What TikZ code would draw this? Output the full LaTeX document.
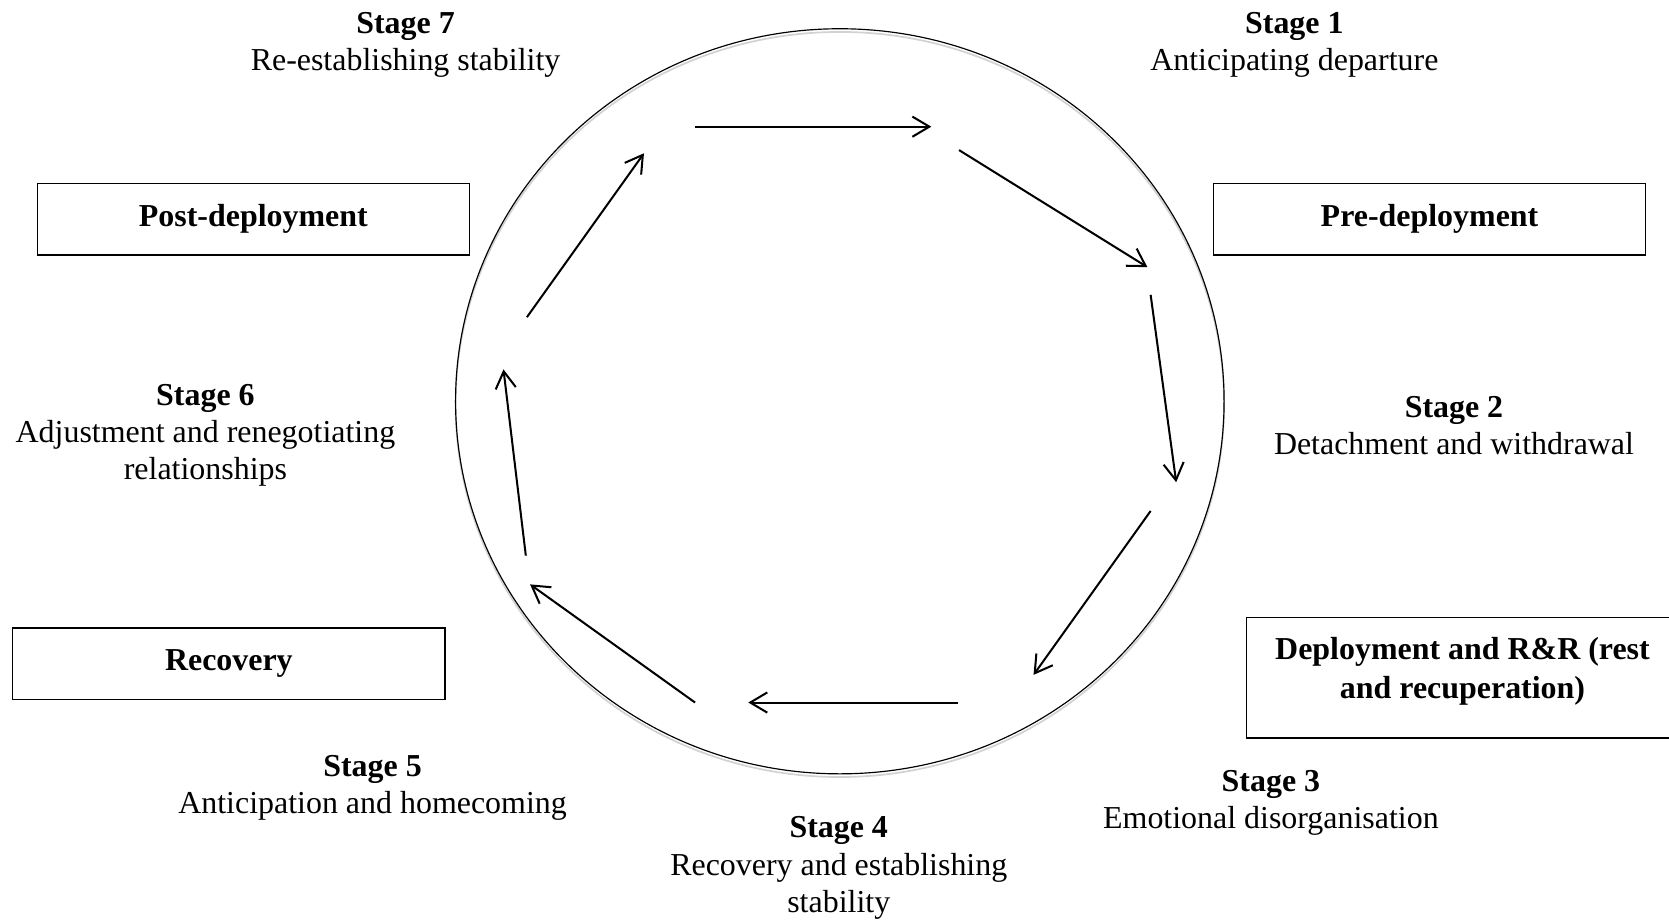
\documentclass[tikz,border=0pt]{standalone}
\usepackage{fontspec}
\setmainfont{Liberation Serif}
\usetikzlibrary{arrows.meta,shapes.geometric}
\begin{document}
\begin{tikzpicture}[x=0.5pt,y=-0.5pt,
  lbl/.style={align=center,inner sep=0pt,font=\fontsize{15}{17.5}\selectfont},
  phase/.style={draw,line width=0.6pt,minimum width=203pt,minimum height=33.5pt,inner sep=0pt,font=\fontsize{15}{17.5}\selectfont\bfseries,align=center},
  flow/.style={line width=0.95pt,-{Straight Barb[length=8pt,width=9.5pt,line width=0.95pt]}}]
\useasboundingbox (0,0) rectangle (1568,864);
\fill[white] (0,0) rectangle (1568,864);
% cycle ellipse with faint shadow
\draw[gray!35,line width=0.8pt] (789,380) ellipse [x radius=180.5pt,y radius=175pt];
\node[draw,line width=0.55pt,ellipse,minimum width=361pt,minimum height=350pt,inner sep=0pt] (cyc) at (789,377) {};
% phase boxes
\node[phase] (post) at (238,206) {Post-deployment};
\node[phase] (pre) at (1343,206) {Pre-deployment};
\node[phase] (recov) at (215,623.5) {Recovery};
\begin{scope}
\clip (0,0) rectangle (1568,864);
\draw[line width=0.8pt] (1171,580) rectangle (1577,693);
\node[lbl,font=\fontsize{15}{18.5}\selectfont\bfseries] (depl) at (1374,630.5) {Deployment and R\&R (rest\\and recuperation)};
\end{scope}
% stage labels
\node[lbl] (s7) at (381,42.5) {\textbf{Stage 7}\\Re-establishing stability};
\node[lbl] (s1) at (1216,42.5) {\textbf{Stage 1}\\Anticipating departure};
\node[lbl] (s2) at (1366,400) {\textbf{Stage 2}\\Detachment and withdrawal};
\node[lbl] (s3) at (1194,754) {\textbf{Stage 3}\\Emotional disorganisation};
\node[lbl] (s4) at (788,815.5) {\textbf{Stage 4}\\Recovery and establishing\\stability};
\node[lbl] (s5) at (350,740) {\textbf{Stage 5}\\Anticipation and homecoming};
\node[lbl] (s6) at (193,409) {\textbf{Stage 6}\\Adjustment and renegotiating\\relationships};
% arrow end points
\coordinate (a1s) at (653,119); \coordinate (a1e) at (875,119);
\coordinate (a2s) at (901,141); \coordinate (a2e) at (1078,251);
\coordinate (a3s) at (1081,277); \coordinate (a3e) at (1105,453);
\coordinate (a4s) at (1081,480); \coordinate (a4e) at (971,634);
\coordinate (a5s) at (900,660); \coordinate (a5e) at (703,660);
\coordinate (a6s) at (653,660); \coordinate (a6e) at (498,549);
\coordinate (a7s) at (494,522); \coordinate (a7e) at (473,347);
\coordinate (a8s) at (495,298); \coordinate (a8e) at (605,144);
\draw[flow] (a1s) -- (a1e);
\draw[flow] (a2s) -- (a2e);
\draw[flow] (a3s) -- (a3e);
\draw[flow] (a4s) -- (a4e);
\draw[flow] (a5s) -- (a5e);
\draw[flow] (a6s) -- (a6e);
\draw[flow] (a7s) -- (a7e);
\draw[flow] (a8s) -- (a8e);
\end{tikzpicture}
\end{document}
